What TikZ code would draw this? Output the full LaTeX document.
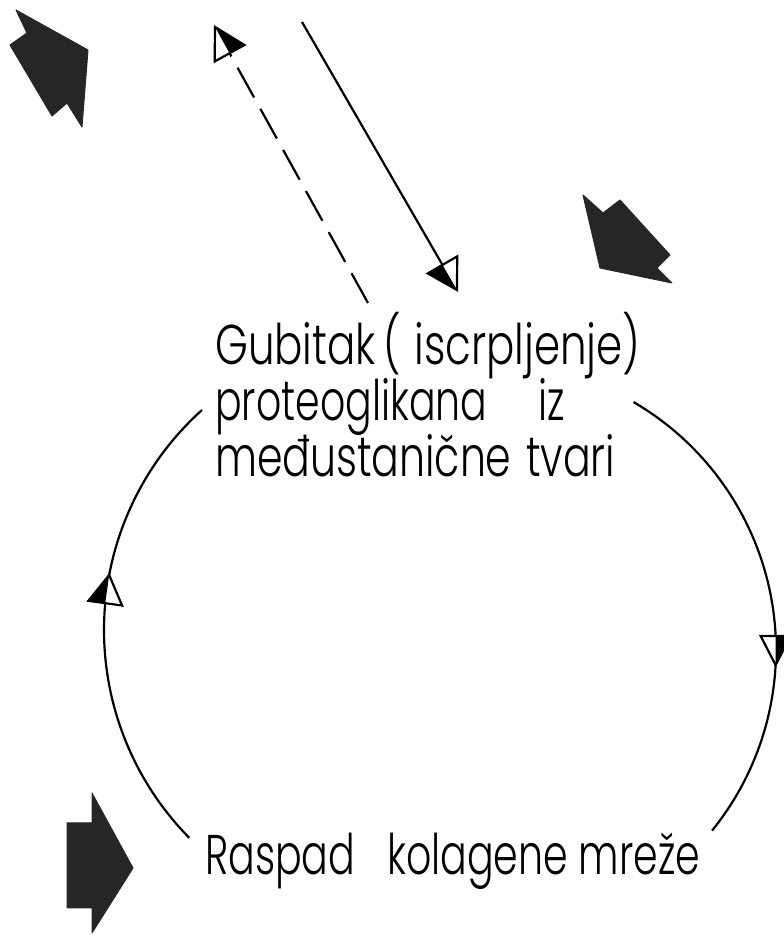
\documentclass[tikz,border=0pt]{standalone}
\usepackage{graphicx}
\usepackage{fontspec}
\setmainfont{Poppins}[UprightFont=* Light]
\usetikzlibrary{calc}
\newcommand\fitw[2]{\resizebox{#1}{\height}{#2}}
% half-filled arrow head: #1 tip, #2 base middle, #3 side (90/-90) of black half, #4 half width
\newcommand\hhead[4]{%
  \fill[white] ($(#2)!#4pt!90:(#1)$) -- (#1) -- ($(#2)!#4pt!-90:(#1)$) -- cycle;
  \fill[black] (#1) -- ($(#2)!#4pt!#3:(#1)$) -- (#2) -- cycle;
  \draw[headline] ($(#2)!#4pt!90:(#1)$) -- (#1) -- ($(#2)!#4pt!-90:(#1)$) -- cycle;}
\begin{document}
\begin{tikzpicture}[x=1pt,y=1pt,
  conn/.style={line width=2.2pt},
  headline/.style={line width=2.2pt, line join=miter},
  blockarrow/.style={fill=black!85, draw=black!85, line width=1pt, line join=round},
  lbl/.style={inner sep=0pt, anchor=base west, font=\fontsize{56}{56}\selectfont}]
\useasboundingbox (0,0) rectangle (784,935);

% block arrows
\path[blockarrow] (16,925) -- (88,885) -- (82,808) -- (67,832) -- (52,819) -- (10,890) -- (27,902) -- cycle;
\path[blockarrow] (583,740) -- (603,722) -- (620,735) -- (670,680) -- (657,667) -- (672,652) -- (600,667) -- cycle;
\path[blockarrow] (92,142) -- (133,67) -- (92,2) -- (92,27) -- (67,27) -- (67,112) -- (92,112) -- cycle;

% texts
\node[lbl] (t1) at (215,570) {\fitw{425pt}{Gubitak\kern10pt(\kern18pt iscrpljenje)}};
\node[lbl] (t2) at (215,514) {\fitw{350pt}{proteoglikana\kern73pt iz}};
\node[lbl] (t3) at (215,458) {\fitw{400pt}{međustanične\kern20pt tvari}};
\node[lbl] (r1) at (205,60) {\fitw{495pt}{Raspad\kern45pt kolagene mreže}};

% cycle arcs
\coordinate (CL) at (400,305);
\coordinate (CR) at (489,285);
\coordinate (la) at ($(CL)+(224.6:296)$);
\coordinate (lt) at ($(CL)+(169.3:296)$);
\coordinate (lm) at ($(CL)+(174.8:296)$);
\draw[conn] (la) arc[start angle=224.6, end angle=132, radius=296];
\hhead{lt}{lm}{90}{17}

\coordinate (ra) at ($(CR)+(59.75:287)$);
\coordinate (rt) at ($(CR)+(-3:287)$);
\coordinate (rm) at ($(CR)+(2.8:287)$);
\draw[conn] (ra) arc[start angle=59.75, end angle=-39, radius=287];
\hhead{rt}{rm}{90}{15}

% straight arrows at top
\coordinate (db) at (368,632);
\coordinate (dt) at (215,908);
\coordinate (dm) at ($(dt)!30pt!(db)$);
\draw[conn, dash pattern=on 34pt off 13pt] (db) -- (dm);
\hhead{dt}{dm}{-90}{17}

\coordinate (st) at (302,913);
\coordinate (sh) at (457,645);
\coordinate (sm) at ($(sh)!29pt!(st)$);
\draw[conn] (st) -- (sm);
\hhead{sh}{sm}{-90}{17}
\end{tikzpicture}
\end{document}
